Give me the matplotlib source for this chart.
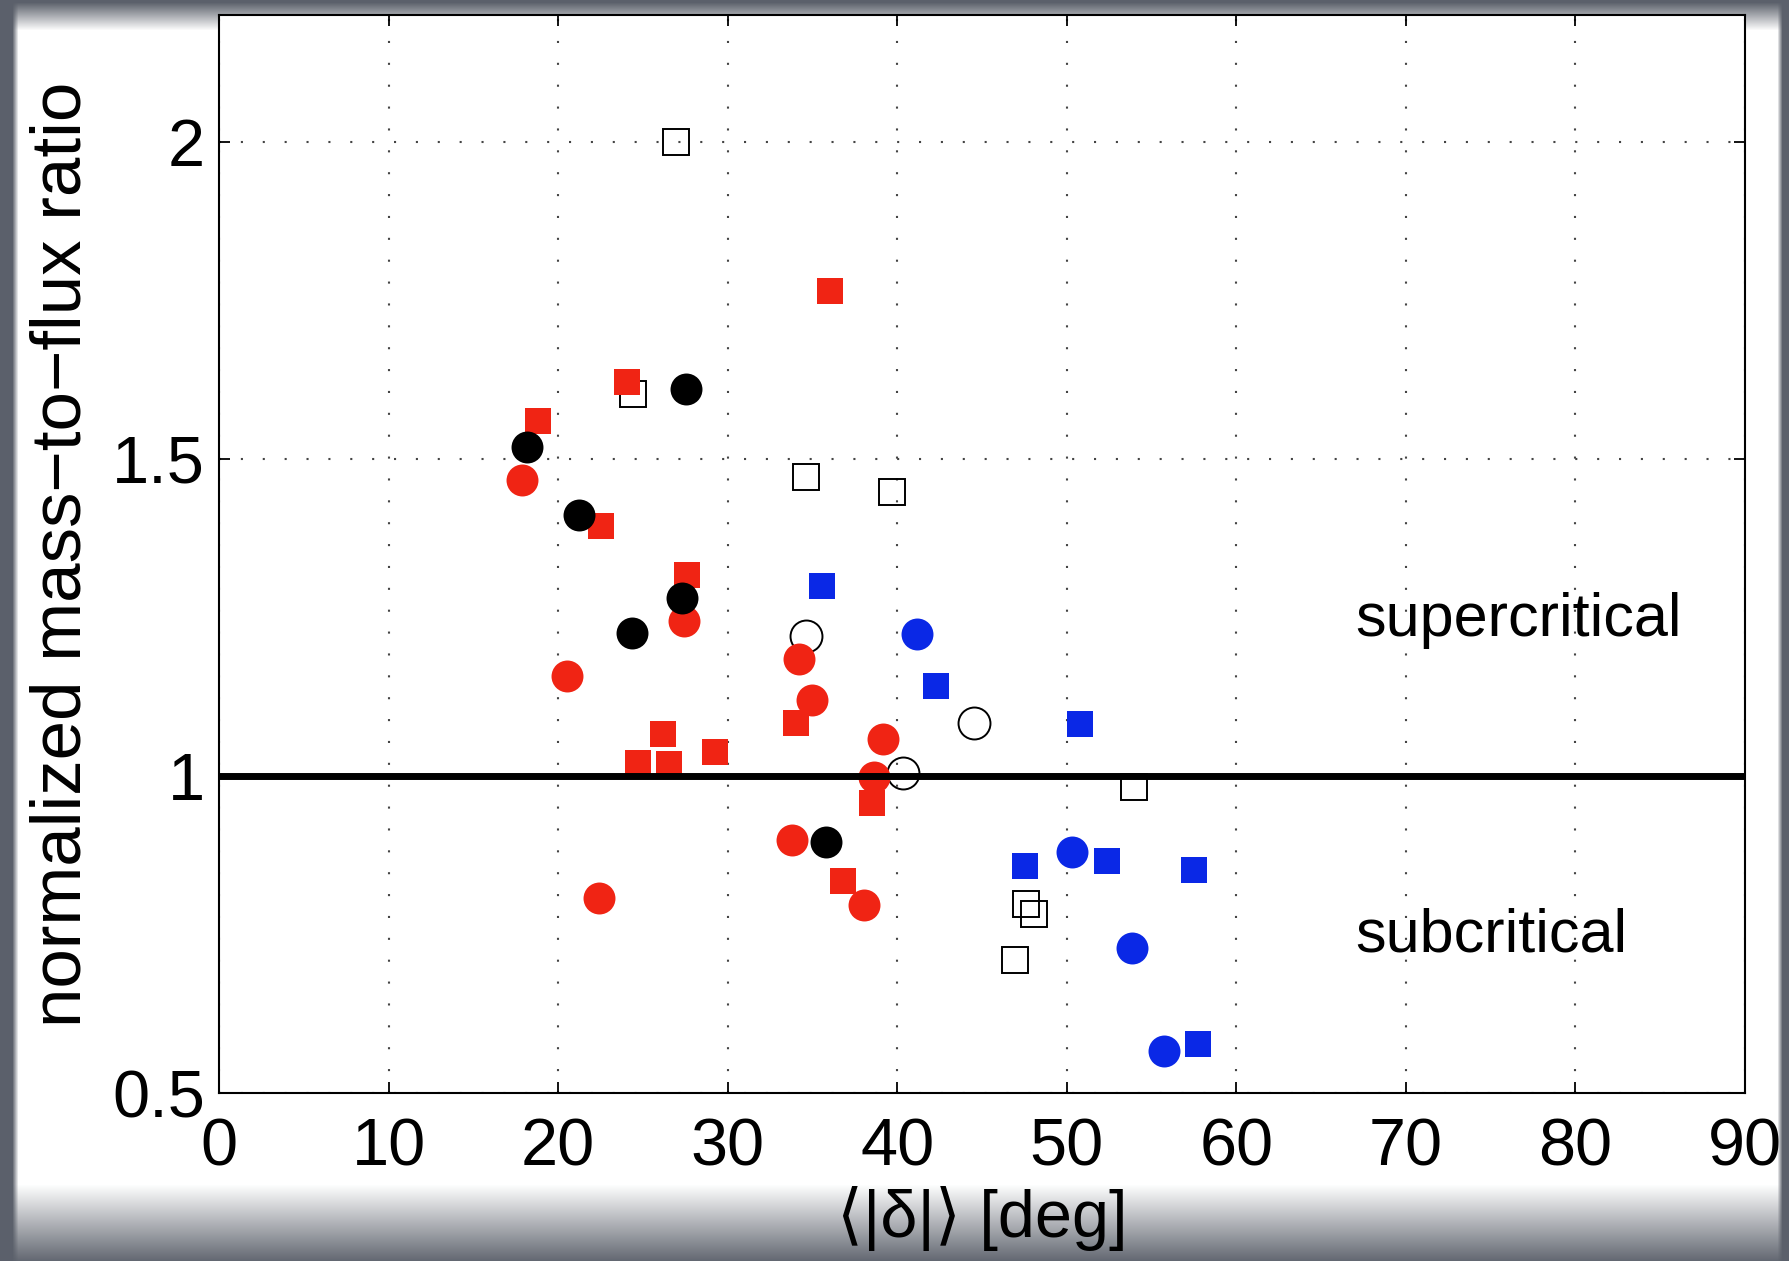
"""Mass-to-flux ratio vs mean polarization angle dispersion, MATLAB-style scatter."""
import numpy as np
import matplotlib
matplotlib.use("Agg")
import matplotlib.pyplot as plt

plt.rcParams['font.family'] = ['Liberation Sans', 'DejaVu Sans']

# data
red_circ_x = [17.85, 20.5, 22.41, 27.42, 34.21, 34.99, 33.78, 39.18, 38.65, 38.06]
red_circ_y = [1.466, 1.158, 0.808, 1.244, 1.184, 1.12, 0.899, 1.058, 0.998, 0.797]

red_sq_x = [18.8, 22.51, 24.08, 27.62, 36.03, 24.69, 26.2, 26.56, 29.25, 34.03, 38.49, 36.78]
red_sq_y = [1.559, 1.394, 1.622, 1.317, 1.764, 1.021, 1.066, 1.019, 1.037, 1.084, 0.958, 0.834]

blk_circ_x = [18.15, 21.23, 27.54, 27.29, 24.34, 35.78]
blk_circ_y = [1.518, 1.412, 1.610, 1.281, 1.226, 0.896]

open_circ_x = [34.6, 44.53, 40.32]
open_circ_y = [1.221, 1.084, 1.004]

open_sq_x = [26.95, 24.43, 34.62, 39.67, 53.98, 47.59, 48.06, 46.94]
open_sq_y = [2.0, 1.602, 1.471, 1.447, 0.982, 0.798, 0.783, 0.709]

blue_circ_x = [41.15, 50.32, 53.83, 55.75]
blue_circ_y = [1.224, 0.880, 0.729, 0.566]

blue_sq_x = [35.58, 42.27, 50.78, 47.53, 52.35, 57.5, 57.72]
blue_sq_y = [1.30, 1.142, 1.082, 0.858, 0.866, 0.851, 0.577]

x_ticks = [0, 10, 20, 30, 40, 50, 60, 70, 80, 90]
y_ticks = [0.5, 1, 1.5, 2]
y_tick_labels = ['0.5', '1', '1.5', '2']

RED = '#f02414'
BLUE = '#0a28e6'

W, H = 1790, 1261
fig = plt.figure(figsize=(W / 100, H / 100), dpi=100)

# slide-like grey frame around a white page
yy, xx = np.mgrid[0:H, 0:W]
ramp = lambda d, w: np.clip(d / w, 0, 1)
f = ramp(xx - 12, 6) * ramp(1782 - xx, 5) * ramp(yy - 2, 28) * ramp(1264 - yy, 80)
base = np.array([0.36, 0.38, 0.42])
img = base + (1 - base) * f[..., None]
bg = fig.add_axes([0, 0, 1, 1], zorder=-5)
bg.imshow(img, aspect='auto', extent=(0, 1, 0, 1), interpolation='bilinear')
bg.axis('off')

ax = fig.add_axes([219 / W, 1 - 1093 / H, (1745 - 219) / W, (1093 - 15) / H])
ax.set_facecolor('white')

ms_c, ms_s = 23, 19
ax.plot(open_sq_x, open_sq_y, 's', ms=ms_s, mfc='none', mec='k', mew=1.4, zorder=3)
ax.plot(open_circ_x, open_circ_y, 'o', ms=ms_c, mfc='none', mec='k', mew=1.4, zorder=3)
ax.plot(red_sq_x, red_sq_y, 's', ms=ms_s, color=RED, mew=0, zorder=4)
ax.plot(blk_circ_x, blk_circ_y, 'o', ms=ms_c, color='k', mew=0, zorder=5)
ax.plot(red_circ_x, red_circ_y, 'o', ms=ms_c, color=RED, mew=0, zorder=4.5)
ax.plot(blue_sq_x, blue_sq_y, 's', ms=ms_s, color=BLUE, mew=0, zorder=4)
ax.plot(blue_circ_x, blue_circ_y, 'o', ms=ms_c, color=BLUE, mew=0, zorder=4)

ax.axhline(1, color='k', lw=5, zorder=6)

ax.text(67, 1.245, 'supercritical', fontsize=44, va='center', ha='left')
ax.text(67, 0.747, 'subcritical', fontsize=44, va='center', ha='left')

ax.set_xlim(0, 90)
ax.set_ylim(0.5, 2.2)
ax.set_xticks(x_ticks)
ax.set_yticks(y_ticks)
ax.set_yticklabels(y_tick_labels)
ax.grid(True, color='#444444', lw=1.5, ls=(0, (1, 9.5)))
ax.set_axisbelow(True)
ax.tick_params(direction='in', length=8, width=1.3, top=True, right=True,
               labelsize=48, colors='k')
ax.tick_params(axis='x', pad=18)
ax.tick_params(axis='y', pad=10)
for s in ax.spines.values():
    s.set_linewidth(1.5)

ax.set_xlabel('⟨|δ|⟩ [deg]', fontsize=48, labelpad=4)
ax.set_ylabel('normalized mass\u2212to\u2212flux ratio', fontsize=51, labelpad=12)

fig.savefig('out.png', dpi=100)
